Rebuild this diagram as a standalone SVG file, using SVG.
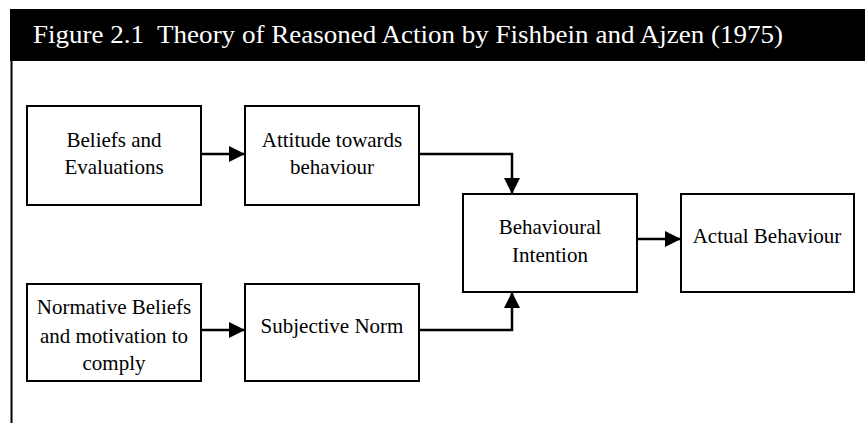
<svg xmlns="http://www.w3.org/2000/svg" width="865" height="423" viewBox="0 0 865 423">
<style>
.box{fill:#fff;stroke:#000;stroke-width:2}
.t{font-family:"Liberation Serif","Times New Roman",serif;font-size:21px;fill:#000;text-anchor:middle}
.c{fill:none;stroke:#000;stroke-width:2.5}
</style>
<defs>
<marker id="ah" markerWidth="16" markerHeight="16" viewBox="0 0 16 16" refX="15" refY="8" orient="auto" markerUnits="userSpaceOnUse">
<path d="M0,0 L16,8 L0,16 Z" fill="#000"/>
</marker>
</defs>
<rect width="865" height="423" fill="#fff"/>
<g id="title">
<rect x="10" y="9" width="855" height="52" fill="#000"/>
<text x="33" y="43" font-family="Liberation Serif,'Times New Roman',serif" font-size="26" fill="#fff" style="white-space:pre" textLength="750" lengthAdjust="spacingAndGlyphs">Figure 2.1  Theory of Reasoned Action by Fishbein and Ajzen (1975)</text>
</g>
<line x1="11.5" y1="61" x2="11.5" y2="423" stroke="#000" stroke-width="2"/>
<g id="n1">
<rect class="box" x="27" y="106" width="174" height="99"/>
<text class="t" x="114" y="147">Beliefs and</text>
<text class="t" x="114" y="174">Evaluations</text>
</g>
<g id="n2">
<rect class="box" x="245" y="106" width="174" height="99"/>
<text class="t" x="332" y="147">Attitude towards</text>
<text class="t" x="332" y="174">behaviour</text>
</g>
<g id="n3">
<rect class="box" x="463" y="194" width="174" height="98"/>
<text class="t" x="550" y="234">Behavioural</text>
<text class="t" x="550" y="262">Intention</text>
</g>
<g id="n4">
<rect class="box" x="681" y="194" width="173" height="98"/>
<text class="t" x="767" y="243">Actual Behaviour</text>
</g>
<g id="n5">
<rect class="box" x="27" y="284" width="174" height="97"/>
<text class="t" x="114" y="314">Normative Beliefs</text>
<text class="t" x="114" y="343">and motivation to</text>
<text class="t" x="114" y="370">comply</text>
</g>
<g id="n6">
<rect class="box" x="245" y="284" width="174" height="97"/>
<text class="t" x="332" y="333">Subjective Norm</text>
</g>
<g id="connectors">
<path class="c" d="M201,154 L244,154" marker-end="url(#ah)"/>
<path class="c" d="M201,330 L244,330" marker-end="url(#ah)"/>
<path class="c" d="M419,154 L512,154 L512,193" marker-end="url(#ah)"/>
<path class="c" d="M419,330 L512,330 L512,293" marker-end="url(#ah)"/>
<path class="c" d="M637,239 L680,239" marker-end="url(#ah)"/>
</g>
</svg>
